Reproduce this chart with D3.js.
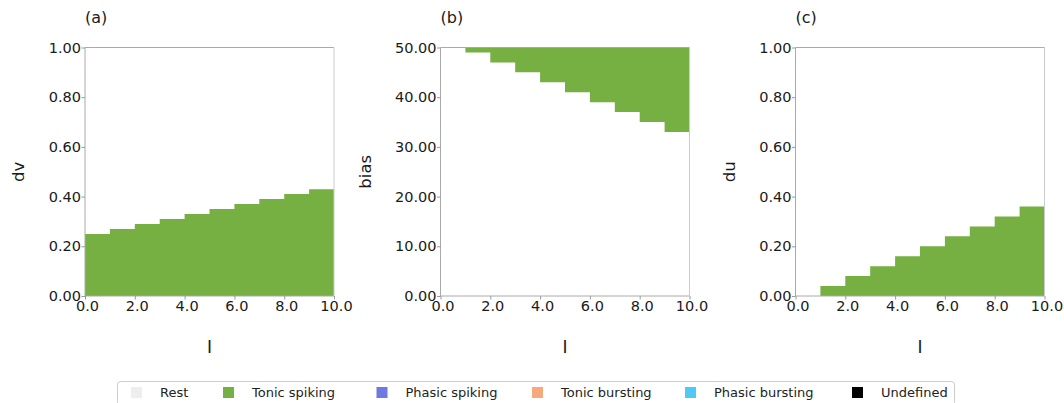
<!DOCTYPE html>
<html>
<head>
<meta charset="utf-8">
<script src="https://cdn.jsdelivr.net/npm/d3@7"></script>
<style>
  html, body { margin: 0; padding: 0; background: #fff; }
  svg { display: block; font-family: "DejaVu Sans", sans-serif; }
</style>
</head>
<body>
<svg id="chart" width="1064" height="403"></svg>
<script>
// Input current I, binned in unit steps
const iBins = [0, 1, 2, 3, 4, 5, 6, 7, 8, 9];

// Regime boundary per I bin: tonic spiking below dv threshold
const dvBoundary = [0.25, 0.27, 0.29, 0.31, 0.33, 0.35, 0.37, 0.39, 0.41, 0.43];
// Tonic spiking above bias threshold (50 = no spiking in that bin)
const biasBoundary = [50, 49, 47, 45, 43, 41, 39, 37, 35, 33];
// Tonic spiking below du threshold (0 = no spiking in that bin)
const duBoundary = [0, 0.04, 0.08, 0.12, 0.16, 0.20, 0.24, 0.28, 0.32, 0.36];

const xTicks = [0, 2, 4, 6, 8, 10];
const unitTicks = [0, 0.2, 0.4, 0.6, 0.8, 1.0];
const biasTicks = [0, 10, 20, 30, 40, 50];

const legendLabels = ["Rest", "Tonic spiking", "Phasic spiking", "Tonic bursting", "Phasic bursting", "Undefined"];
const legendColors = ["#eeeeee", "#76b043", "#7079e2", "#f6aa7c", "#4fcaf6", "#000000"];

const svg = d3.select("#chart");
const W = 249, H = 248.5, TOP = 47.5;
const spiking = legendColors[1];

const panels = [
  { tag: "(a)", ylabel: "dv", left: 85, ymax: 1, yticks: unitTicks, bound: dvBoundary, above: false, labelOff: 66.5 },
  { tag: "(b)", ylabel: "bias", left: 440.5, ymax: 50, yticks: biasTicks, bound: biasBoundary, above: true, labelOff: 75.5 },
  { tag: "(c)", ylabel: "du", left: 795.5, ymax: 1, yticks: unitTicks, bound: duBoundary, above: false, labelOff: 66 }
];

panels.forEach(p => {
  const g = svg.append("g").attr("transform", `translate(${p.left},${TOP})`);
  const x = d3.scaleLinear().domain([0, 10]).range([0, W]);
  const y = d3.scaleLinear().domain([0, p.ymax]).range([H, 0]);

  // tonic-spiking region as one stepped area (bin edges: each bin start, plus the last bin's end)
  const pts = iBins.map((d, i) => ({ I: d, b: p.bound[i] }));
  pts.push({ I: iBins[iBins.length - 1] + 1, b: p.bound[p.bound.length - 1] });
  const area = d3.area()
    .curve(d3.curveStepAfter)
    .x(d => x(d.I))
    .y0(p.above ? y(p.ymax) : y(0))
    .y1(d => y(d.b));
  g.append("path").datum(pts).attr("d", area).attr("fill", spiking);

  // spines
  g.append("line").attr("x1", 0).attr("x2", W).attr("y1", 0).attr("y2", 0).attr("stroke", "#aaa");
  g.append("line").attr("x1", 0).attr("x2", 0).attr("y1", 0).attr("y2", H).attr("stroke", "#aaa");
  g.append("line").attr("x1", 0).attr("x2", W).attr("y1", H).attr("y2", H).attr("stroke", "#aaa");
  g.append("line").attr("x1", W).attr("x2", W).attr("y1", 0).attr("y2", H).attr("stroke", "#ccc");

  // axes
  const xa = g.append("g").attr("transform", `translate(0,${H})`)
    .call(d3.axisBottom(x).tickValues(xTicks).tickFormat(d3.format(".1f")).tickSize(3.5).tickPadding(1.5));
  const ya = g.append("g")
    .call(d3.axisLeft(y).tickValues(p.yticks).tickFormat(d3.format(".2f")).tickSize(3.5).tickPadding(0.5));
  [xa, ya].forEach(a => {
    a.select(".domain").remove();
    a.selectAll(".tick line").attr("stroke", "#999");
    a.selectAll(".tick text").attr("fill", "#1a1a1a").style("font-size", "14.5px").style("font-family", "DejaVu Sans");
  });
  xa.selectAll(".tick text").attr("dx", 2);

  // labels
  g.append("text").attr("x", 0).attr("y", 23 - TOP).text(p.tag)
    .style("font-size", "16px").attr("fill", "#1a1a1a");
  g.append("text").attr("x", W / 2).attr("y", 352.5 - TOP).attr("text-anchor", "middle")
    .text("I").style("font-size", "17px").attr("fill", "#1a1a1a");
  g.append("text")
    .attr("transform", `translate(${-p.labelOff},${H / 2}) rotate(-90)`)
    .attr("text-anchor", "middle").attr("dy", "0.35em")
    .text(p.ylabel).style("font-size", "16.5px").attr("fill", "#1a1a1a");
});

// legend
const legendX = [131, 223, 376.5, 532, 685, 852];
const lg = svg.append("g");
lg.append("rect").attr("x", 117.5).attr("y", 381.5).attr("width", 837).attr("height", 24)
  .attr("rx", 3).attr("fill", "#fff").attr("stroke", "#ccc");
const items = lg.selectAll("g.item").data(legendLabels).join("g")
  .attr("class", "item")
  .attr("transform", (d, i) => `translate(${legendX[i]},0)`);
items.append("rect").attr("x", 0).attr("y", 387).attr("width", 11).attr("height", 11)
  .attr("fill", (d, i) => legendColors[i]);
items.append("text").attr("x", 29).attr("y", 396.5).text(d => d)
  .style("font-size", "13px").attr("fill", "#222");
</script>
</body>
</html>
